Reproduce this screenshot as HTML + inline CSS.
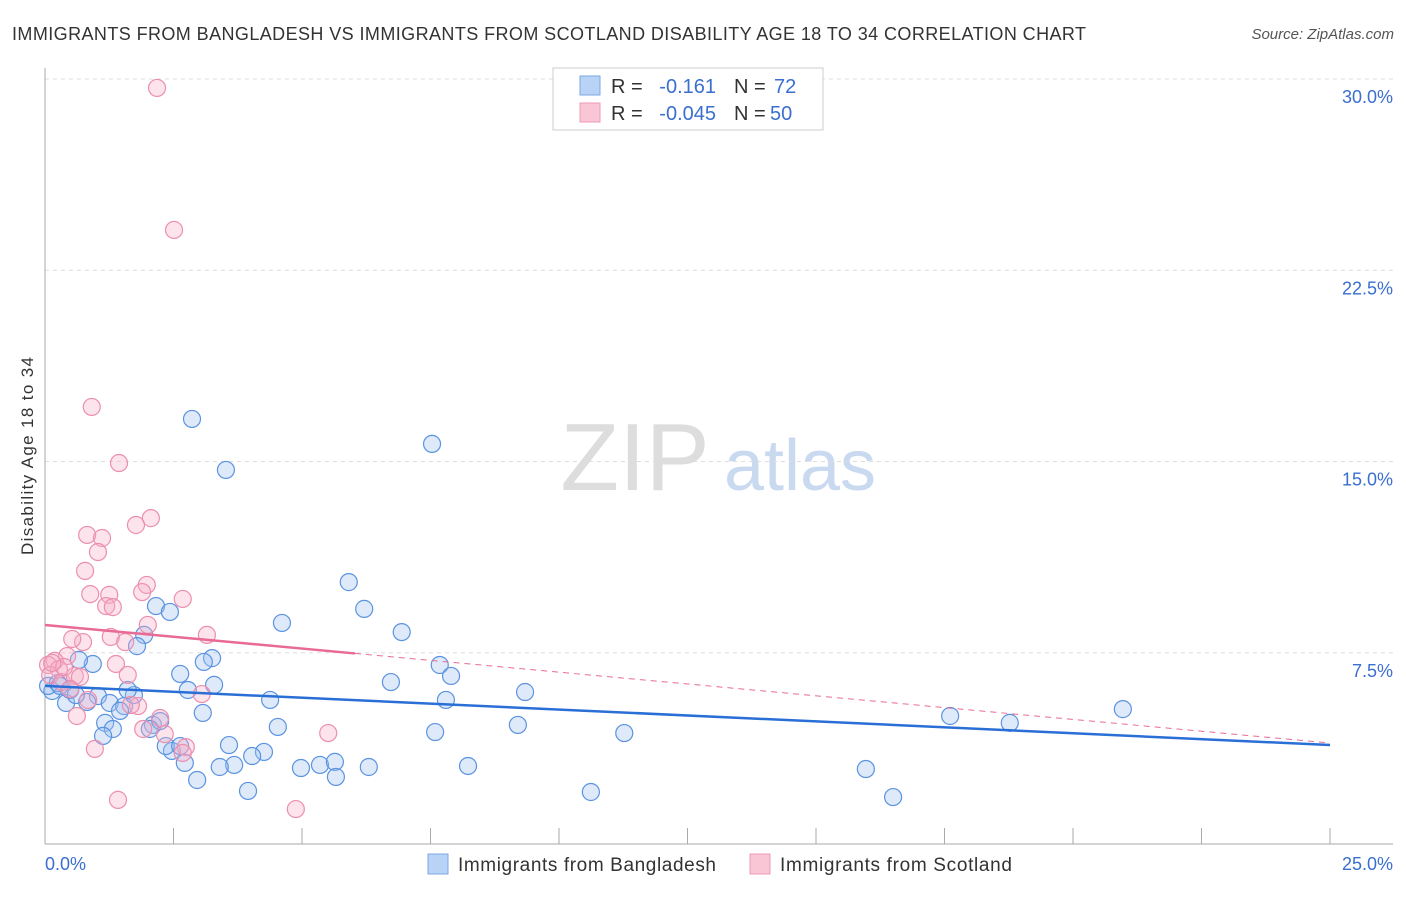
<!DOCTYPE html>
<html><head><meta charset="utf-8">
<style>
body{margin:0;background:#fff;font-family:"Liberation Sans",sans-serif;}
svg text{font-family:"Liberation Sans",sans-serif;}
</style></head>
<body>
<svg id="chart" width="1406" height="892" xmlns="http://www.w3.org/2000/svg">
<text x="12" y="40" font-size="18" fill="#333" textLength="1074" lengthAdjust="spacing">IMMIGRANTS FROM BANGLADESH VS IMMIGRANTS FROM SCOTLAND DISABILITY AGE 18 TO 34 CORRELATION CHART</text>
<text x="1394" y="39" font-size="15" fill="#555" text-anchor="end" font-style="italic">Source: ZipAtlas.com</text>
<text transform="translate(33,456) rotate(-90)" font-size="17" fill="#333" text-anchor="middle" textLength="198" lengthAdjust="spacing">Disability Age 18 to 34</text>
<g>
<text x="635" y="490" font-size="96" fill="#ddd" font-family="Liberation Serif" text-anchor="middle">ZIP</text>
<text x="800" y="490" font-size="72" fill="#c9d9f0" text-anchor="middle">atlas</text>
</g>
<g id="grid"></g>
<g id="marks"></g>
<g>
<rect x="553" y="68" width="270" height="62" fill="#fff" stroke="#ccc"/>
<rect x="580" y="76" width="20" height="19" fill="#b8d3f5" stroke="#7aa8e6"/>
<rect x="580" y="103" width="20" height="19" fill="#f9c6d6" stroke="#ee9ab5"/>
<text x="611" y="93" font-size="20" fill="#333">R =</text>
<text x="716" y="93" font-size="20" fill="#3a6fcf" text-anchor="end">-0.161</text>
<text x="734" y="93" font-size="20" fill="#333">N =</text>
<text x="774" y="93" font-size="20" fill="#3a6fcf">72</text>
<text x="611" y="120" font-size="20" fill="#333">R =</text>
<text x="716" y="120" font-size="20" fill="#3a6fcf" text-anchor="end">-0.045</text>
<text x="734" y="120" font-size="20" fill="#333">N =</text>
<text x="770" y="120" font-size="20" fill="#3a6fcf">50</text>
</g>
<g>
<rect x="428" y="854" width="20" height="20" fill="#b8d3f5" stroke="#7aa8e6"/>
<text x="458" y="871" font-size="19" fill="#333" textLength="258" lengthAdjust="spacing">Immigrants from Bangladesh</text>
<rect x="750" y="854" width="20" height="20" fill="#f9c6d6" stroke="#ee9ab5"/>
<text x="780" y="871" font-size="19" fill="#333" textLength="232" lengthAdjust="spacing">Immigrants from Scotland</text>
</g>
</svg>
<script>
const yTicks=[7.5,15,22.5,30];
const yTickLabels=["7.5%","15.0%","22.5%","30.0%"];
const xTickLabels=["0.0%","25.0%"];
const blueX=[2.86,3.52,7.53,5.91,6.21,4.61,6.94,2.16,2.43,1.93,1.79,3.25,3.09,2.63,0.93,0.66,7.68,7.90,6.73,9.34,2.78,3.29,7.80,4.38,1.03,0.82,0.41,0.14,0.06,0.25,1.26,1.54,1.46,1.73,3.07,1.17,1.32,1.13,2.10,2.24,2.04,4.53,7.59,9.20,11.27,17.61,18.77,20.97,2.47,2.35,3.58,4.26,4.03,3.68,3.40,2.72,4.98,5.35,5.64,5.66,6.30,8.23,15.97,2.96,3.95,10.62,16.50,0.49,0.29,0.60,1.61,2.63];
const blueY=[16.67,14.67,15.69,10.27,9.22,8.67,8.31,9.33,9.10,8.20,7.76,7.29,7.14,6.67,7.06,7.22,7.02,6.59,6.35,5.96,6.04,6.24,5.65,5.65,5.80,5.57,5.53,6.00,6.20,6.31,5.53,5.41,5.22,5.84,5.14,4.75,4.51,4.24,4.67,4.82,4.51,4.59,4.39,4.67,4.35,5.02,4.75,5.29,3.65,3.84,3.88,3.61,3.45,3.10,3.02,3.18,2.98,3.10,3.22,2.63,3.02,3.06,2.94,2.51,2.08,2.04,1.84,6.04,6.20,5.84,6.04,3.84];
const pinkX=[2.18,2.51,0.91,1.44,2.06,1.77,0.82,1.11,1.03,0.78,1.98,1.25,0.88,1.89,1.19,1.32,2.68,2.00,3.15,1.28,1.56,0.74,0.53,0.43,0.19,0.06,0.27,0.10,0.33,0.58,1.38,1.61,0.68,0.49,2.24,1.81,1.67,0.84,3.05,0.62,1.91,2.33,2.74,2.68,0.97,1.42,4.88,5.51,0.37,0.14];
const pinkY=[29.65,24.08,17.14,14.94,12.78,12.51,12.12,12.00,11.45,10.71,10.16,9.77,9.80,9.88,9.33,9.29,9.61,8.59,8.20,8.12,7.92,7.92,8.04,7.37,7.18,7.02,6.86,6.63,6.35,6.59,7.06,6.63,6.55,6.08,4.94,5.41,5.45,5.65,5.88,5.02,4.51,4.31,3.80,3.57,3.73,1.73,1.37,4.35,6.94,7.10];
const blueTrend=[[0,6.20],[25,3.88]];
const pinkTrend=[[0,8.59],[25,3.96]];
const pinkSolidEnd=6.03;

const X0=45,X1=1330,Y0=844,Y30=79;
const xs=v=>X0+(v/25)*(X1-X0);
const ys=v=>Y0-(v/30)*(Y0-Y30);
const NS="http://www.w3.org/2000/svg";
const grid=document.getElementById('grid'),marks=document.getElementById('marks');
function mk(tag,attrs,parent){const e=document.createElementNS(NS,tag);for(const k in attrs)e.setAttribute(k,attrs[k]);parent.appendChild(e);return e;}
yTicks.forEach((t,i)=>{
  const l=mk('line',{x1:X0,x2:1393,y1:ys(t),y2:ys(t),stroke:'#ddd','stroke-dasharray':'4,4'},grid);
  
  
  const tx=mk('text',{x:1393,y:ys(t)+24,'font-size':18,fill:'#3a6fcf','text-anchor':'end'},grid);
  tx.textContent=yTickLabels[i];
  
  
});
const ax=mk('line',{x1:X0,x2:X0,y1:68,y2:Y0,stroke:'#aaa'},grid);


const bx=mk('line',{x1:X0,x2:1393,y1:Y0,y2:Y0,stroke:'#aaa'},grid);


for(let i=1;i<=10;i++){
  const t=mk('line',{x1:xs(i*2.5),x2:xs(i*2.5),y1:828,y2:Y0,stroke:'#aaa'},grid);
  
  
}
[[0,'start'],[25,'end']].forEach((p,i)=>{
  const tx=mk('text',{x:i?1393:X0,y:870,'font-size':18,fill:'#3a6fcf','text-anchor':p[1]},grid);
  tx.textContent=xTickLabels[i];
  
  
});
blueX.forEach((v,i)=>{
  const c=mk('circle',{cx:xs(v),cy:ys(blueY[i]),r:8.5,fill:'rgba(160,195,240,0.35)',stroke:'#5b93e0','stroke-width':1.2},marks);
  
  
});
pinkX.forEach((v,i)=>{
  const c=mk('circle',{cx:xs(v),cy:ys(pinkY[i]),r:8.5,fill:'rgba(245,175,200,0.35)',stroke:'#ec8fae','stroke-width':1.2},marks);
  
  
});
const pt=v=>pinkTrend[0][1]+(pinkTrend[1][1]-pinkTrend[0][1])*v/25;
const pd=mk('line',{x1:xs(pinkSolidEnd),y1:ys(pt(pinkSolidEnd)),x2:xs(25),y2:ys(pinkTrend[1][1]),stroke:'#e86a95','stroke-width':1,'stroke-dasharray':'6,5'},marks);


const ps=mk('line',{x1:xs(0),y1:ys(pinkTrend[0][1]),x2:xs(pinkSolidEnd),y2:ys(pt(pinkSolidEnd)),stroke:'#e86a95','stroke-width':2.5},marks);


const bl=mk('line',{x1:xs(blueTrend[0][0]),y1:ys(blueTrend[0][1]),x2:xs(blueTrend[1][0]),y2:ys(blueTrend[1][1]),stroke:'#2a6fd6','stroke-width':2.5},marks);


</script>
</body></html>
